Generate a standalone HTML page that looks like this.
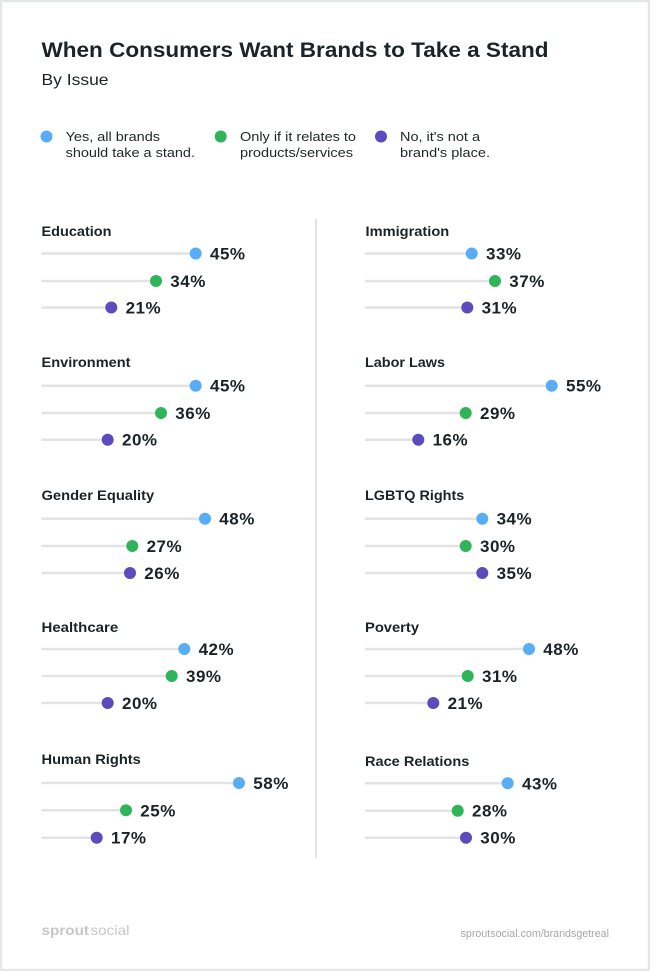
<!DOCTYPE html>
<html><head><meta charset="utf-8"><style>
html,body{margin:0;padding:0;background:#fff;}
svg{display:block;}
text{font-family:"Liberation Sans",Arial,sans-serif;}
.t{font-weight:bold;fill:#1c2326;}
.sec{font-weight:bold;font-size:14px;fill:#1c2326;}
.pct{font-weight:bold;font-size:17px;fill:#1c2326;letter-spacing:0.5px;}
.lg{font-size:13px;fill:#1f2628;}
.trk{stroke:#e1e3e4;stroke-width:2.5;}
</style></head><body>
<svg width="650" height="971" viewBox="0 0 650 971" xmlns="http://www.w3.org/2000/svg">
<rect x="1" y="1" width="648" height="969" fill="#fff" stroke="#e4e7e7" stroke-width="2.5"/>
<text class="t" x="41.5" y="57" font-size="21" textLength="507" lengthAdjust="spacingAndGlyphs">When Consumers Want Brands to Take a Stand</text>
<text x="41.5" y="85" font-size="16" fill="#1c2326" textLength="67" lengthAdjust="spacingAndGlyphs">By Issue</text>

<circle cx="46.5" cy="136.5" r="6" fill="#58adf4"/>
<text class="lg" x="65.6" y="141" textLength="94.4" lengthAdjust="spacingAndGlyphs">Yes, all brands</text>
<text class="lg" x="65.6" y="157" textLength="129.4" lengthAdjust="spacingAndGlyphs">should take a stand.</text>
<circle cx="220.7" cy="136.5" r="6" fill="#30b45a"/>
<text class="lg" x="240" y="141" textLength="116" lengthAdjust="spacingAndGlyphs">Only if it relates to</text>
<text class="lg" x="240" y="157" textLength="113" lengthAdjust="spacingAndGlyphs">products/services</text>
<circle cx="381" cy="136.5" r="6" fill="#5c4bbd"/>
<text class="lg" x="400" y="141" textLength="80" lengthAdjust="spacingAndGlyphs">No, it's not a</text>
<text class="lg" x="400" y="157" textLength="90" lengthAdjust="spacingAndGlyphs">brand's place.</text>

<line x1="316" y1="219" x2="316" y2="858" stroke="#e0e2e3" stroke-width="2"/>

<!-- LEFT COLUMN -->
<g>
<text class="sec" x="41.5" y="236" textLength="70" lengthAdjust="spacingAndGlyphs">Education</text>
<line class="trk" x1="41.5" y1="253.5" x2="195.7" y2="253.5"/><circle cx="195.7" cy="253.5" r="6" fill="#58adf4"/><text class="pct" x="210" y="259.5">45%</text>
<line class="trk" x1="41.5" y1="281" x2="156" y2="281"/><circle cx="156" cy="281" r="6" fill="#30b45a"/><text class="pct" x="170.3" y="287">34%</text>
<line class="trk" x1="41.5" y1="307.5" x2="111.3" y2="307.5"/><circle cx="111.3" cy="307.5" r="6" fill="#5c4bbd"/><text class="pct" x="125.6" y="313.5">21%</text>

<text class="sec" x="41.5" y="367" textLength="89" lengthAdjust="spacingAndGlyphs">Environment</text>
<line class="trk" x1="41.5" y1="385.7" x2="195.7" y2="385.7"/><circle cx="195.7" cy="385.7" r="6" fill="#58adf4"/><text class="pct" x="210" y="391.7">45%</text>
<line class="trk" x1="41.5" y1="413" x2="161" y2="413"/><circle cx="161" cy="413" r="6" fill="#30b45a"/><text class="pct" x="175.3" y="419">36%</text>
<line class="trk" x1="41.5" y1="439.7" x2="107.7" y2="439.7"/><circle cx="107.7" cy="439.7" r="6" fill="#5c4bbd"/><text class="pct" x="122" y="445.7">20%</text>

<text class="sec" x="41.5" y="500" textLength="112.7" lengthAdjust="spacingAndGlyphs">Gender Equality</text>
<line class="trk" x1="41.5" y1="518.7" x2="205" y2="518.7"/><circle cx="205" cy="518.7" r="6" fill="#58adf4"/><text class="pct" x="219.3" y="524.7">48%</text>
<line class="trk" x1="41.5" y1="546" x2="132.3" y2="546"/><circle cx="132.3" cy="546" r="6" fill="#30b45a"/><text class="pct" x="146.6" y="552">27%</text>
<line class="trk" x1="41.5" y1="573" x2="130" y2="573"/><circle cx="130" cy="573" r="6" fill="#5c4bbd"/><text class="pct" x="144.3" y="579">26%</text>

<text class="sec" x="41.5" y="632" textLength="76.7" lengthAdjust="spacingAndGlyphs">Healthcare</text>
<line class="trk" x1="41.5" y1="649" x2="184.3" y2="649"/><circle cx="184.3" cy="649" r="6" fill="#58adf4"/><text class="pct" x="198.6" y="655">42%</text>
<line class="trk" x1="41.5" y1="676" x2="171.7" y2="676"/><circle cx="171.7" cy="676" r="6" fill="#30b45a"/><text class="pct" x="186" y="682">39%</text>
<line class="trk" x1="41.5" y1="703" x2="107.7" y2="703"/><circle cx="107.7" cy="703" r="6" fill="#5c4bbd"/><text class="pct" x="122" y="709">20%</text>

<text class="sec" x="41.5" y="764" textLength="99.3" lengthAdjust="spacingAndGlyphs">Human Rights</text>
<line class="trk" x1="41.5" y1="783" x2="239" y2="783"/><circle cx="239" cy="783" r="6" fill="#58adf4"/><text class="pct" x="253.3" y="789">58%</text>
<line class="trk" x1="41.5" y1="810.3" x2="126" y2="810.3"/><circle cx="126" cy="810.3" r="6" fill="#30b45a"/><text class="pct" x="140.3" y="816.3">25%</text>
<line class="trk" x1="41.5" y1="837.7" x2="96.7" y2="837.7"/><circle cx="96.7" cy="837.7" r="6" fill="#5c4bbd"/><text class="pct" x="111" y="843.7">17%</text>
</g>

<!-- RIGHT COLUMN -->
<g>
<text class="sec" x="365.5" y="236" textLength="83.7" lengthAdjust="spacingAndGlyphs">Immigration</text>
<line class="trk" x1="365" y1="253.5" x2="471.7" y2="253.5"/><circle cx="471.7" cy="253.5" r="6" fill="#58adf4"/><text class="pct" x="486" y="259.5">33%</text>
<line class="trk" x1="365" y1="281" x2="495" y2="281"/><circle cx="495" cy="281" r="6" fill="#30b45a"/><text class="pct" x="509.3" y="287">37%</text>
<line class="trk" x1="365" y1="307.5" x2="467.3" y2="307.5"/><circle cx="467.3" cy="307.5" r="6" fill="#5c4bbd"/><text class="pct" x="481.6" y="313.5">31%</text>

<text class="sec" x="365" y="367" textLength="80" lengthAdjust="spacingAndGlyphs">Labor Laws</text>
<line class="trk" x1="365" y1="385.7" x2="551.7" y2="385.7"/><circle cx="551.7" cy="385.7" r="6" fill="#58adf4"/><text class="pct" x="566" y="391.7">55%</text>
<line class="trk" x1="365" y1="413" x2="465.7" y2="413"/><circle cx="465.7" cy="413" r="6" fill="#30b45a"/><text class="pct" x="480" y="419">29%</text>
<line class="trk" x1="365" y1="439.7" x2="418.3" y2="439.7"/><circle cx="418.3" cy="439.7" r="6" fill="#5c4bbd"/><text class="pct" x="432.6" y="445.7">16%</text>

<text class="sec" x="365" y="500" textLength="99.3" lengthAdjust="spacingAndGlyphs">LGBTQ Rights</text>
<line class="trk" x1="365" y1="518.7" x2="482.3" y2="518.7"/><circle cx="482.3" cy="518.7" r="6" fill="#58adf4"/><text class="pct" x="496.6" y="524.7">34%</text>
<line class="trk" x1="365" y1="546" x2="465.7" y2="546"/><circle cx="465.7" cy="546" r="6" fill="#30b45a"/><text class="pct" x="480" y="552">30%</text>
<line class="trk" x1="365" y1="573" x2="482.3" y2="573"/><circle cx="482.3" cy="573" r="6" fill="#5c4bbd"/><text class="pct" x="496.6" y="579">35%</text>

<text class="sec" x="365" y="632" textLength="54" lengthAdjust="spacingAndGlyphs">Poverty</text>
<line class="trk" x1="365" y1="649" x2="529" y2="649"/><circle cx="529" cy="649" r="6" fill="#58adf4"/><text class="pct" x="543.3" y="655">48%</text>
<line class="trk" x1="365" y1="676" x2="467.7" y2="676"/><circle cx="467.7" cy="676" r="6" fill="#30b45a"/><text class="pct" x="482" y="682">31%</text>
<line class="trk" x1="365" y1="703" x2="433.3" y2="703"/><circle cx="433.3" cy="703" r="6" fill="#5c4bbd"/><text class="pct" x="447.6" y="709">21%</text>

<text class="sec" x="365" y="766" textLength="104.3" lengthAdjust="spacingAndGlyphs">Race Relations</text>
<line class="trk" x1="365" y1="783.3" x2="507.7" y2="783.3"/><circle cx="507.7" cy="783.3" r="6" fill="#58adf4"/><text class="pct" x="522" y="789.3">43%</text>
<line class="trk" x1="365" y1="810.7" x2="457.7" y2="810.7"/><circle cx="457.7" cy="810.7" r="6" fill="#30b45a"/><text class="pct" x="472" y="816.7">28%</text>
<line class="trk" x1="365" y1="837.7" x2="466" y2="837.7"/><circle cx="466" cy="837.7" r="6" fill="#5c4bbd"/><text class="pct" x="480.3" y="843.7">30%</text>
</g>

<!-- FOOTER -->
<text x="41.5" y="935" font-size="14" font-weight="bold" fill="#c6c8c8" textLength="47.5" lengthAdjust="spacingAndGlyphs">sprout</text>
<text x="90.5" y="935" font-size="14" fill="#c6c8c8" textLength="39" lengthAdjust="spacingAndGlyphs">social</text>
<text x="460.6" y="937" font-size="11" fill="#a6a8a8" textLength="148.4" lengthAdjust="spacingAndGlyphs">sproutsocial.com/brandsgetreal</text>
</svg>
</body></html>
